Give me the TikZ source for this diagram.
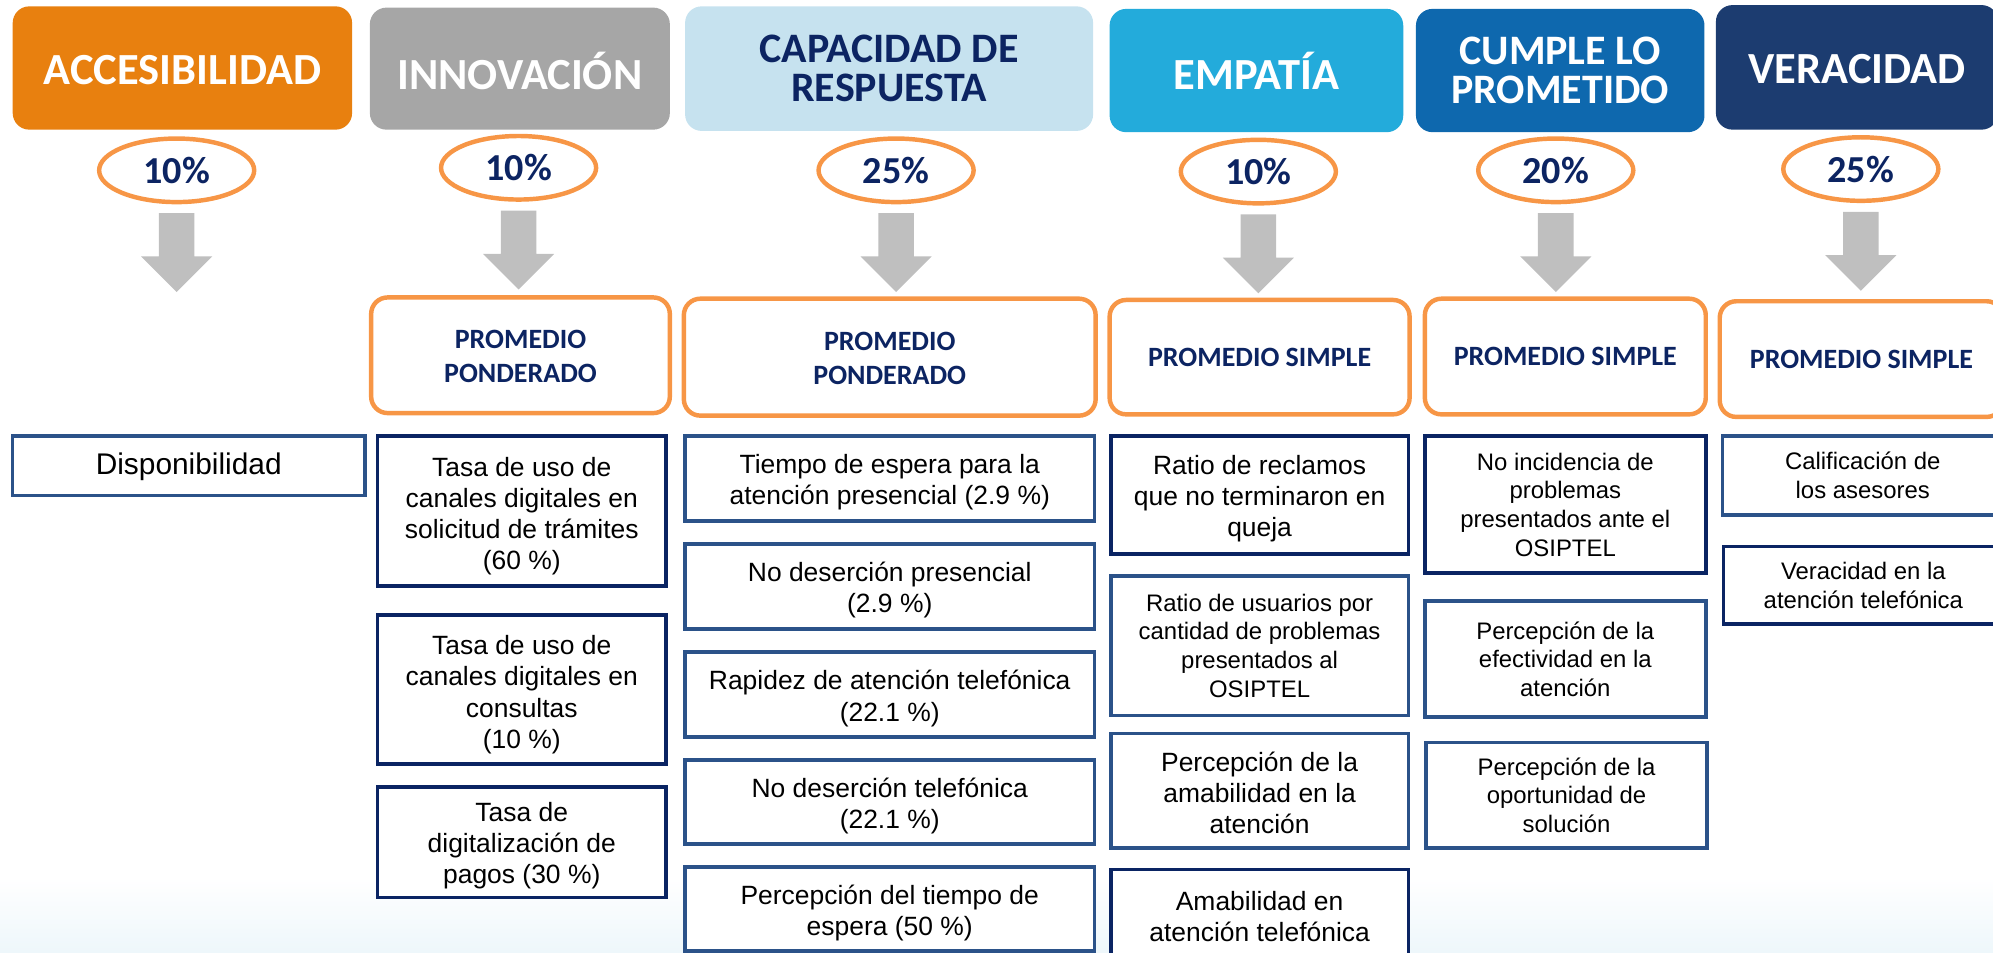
\documentclass[tikz,border=0pt]{standalone}
\usepackage{fontspec}
\setmainfont{Liberation Sans}
\newfontfamily\calib{Carlito}
\usetikzlibrary{shapes.geometric,calc}
\definecolor{accorange}{HTML}{E8800F}
\definecolor{innovgray}{HTML}{A6A6A6}
\definecolor{caplight}{HTML}{C6E2EF}
\definecolor{empblue}{HTML}{23ABDB}
\definecolor{cumpleblue}{HTML}{0E68AE}
\definecolor{verblue}{HTML}{1C3C70}
\definecolor{navy}{HTML}{0C2462}
\definecolor{orangeline}{HTML}{F79646}
\definecolor{arrowgray}{HTML}{BFBFBF}
\definecolor{darkborder}{HTML}{0A2463}
\definecolor{midborder}{HTML}{2B5289}
\definecolor{bgblue}{HTML}{EEF7FB}
% box drawn as a node, its text placed as a second node (shifted by #8)
\newcommand\mkbox[8]{\node[#6, minimum width={#4-#2}, minimum height={#5-#3}] (#1) at ({(#2+#4)/2},{(#3+#5)/2}) {};
  \node[#6, draw=none, fill=none, minimum width=0pt, minimum height=0pt] (#1t) at ([yshift=#8]#1.center) {#7};}
\newcommand\blockarrow[1]{\fill[arrowgray] ($(#1.south)+(-14,7)$) -- ($(#1.south)+(14,7)$) -- ($(#1.south)+(14,41)$) -- ($(#1.south)+(28,41)$) -- ($(#1.south)+(0,69)$) -- ($(#1.south)+(-28,41)$) -- ($(#1.south)+(-14,41)$) -- cycle;}
\tikzset{
  hdr/.style={rounded corners=13pt, inner sep=0pt, align=center,
    font=\calib\bfseries\fontsize{35}{35}\selectfont},
  hdrtwo/.style={rounded corners=13pt, inner sep=0pt, align=center,
    font=\calib\bfseries\fontsize{33}{31}\selectfont},
  pct/.style={ellipse, draw=orangeline, line width=3.5pt, fill=white,
    minimum width=122, minimum height=50, inner sep=0pt, text=navy,
    font=\calib\bfseries\fontsize{30}{30}\selectfont},
  meth/.style={draw=orangeline, line width=3.5pt, rounded corners=13pt, fill=white,
    inner sep=0pt, align=center, text=navy,
    font=\calib\bfseries\fontsize{22}{27}\selectfont},
  ind/.style={draw=midborder, line width=2.8pt, fill=white, inner sep=0pt, align=center,
    font=\fontsize{20.8}{24.5}\selectfont},
  inddark/.style={ind, draw=darkborder},
  small/.style={font=\fontsize{18.8}{22.6}\selectfont},
}
\begin{document}
\begin{tikzpicture}[x=1pt,y=-1pt]
\useasboundingbox (0,0) rectangle (1568,749);
\clip (0,0) rectangle (1568,749);
\fill[top color=white,bottom color=bgblue] (0,690) rectangle (1568,749);
% headers
\mkbox{h1}{10}{5}{277}{102}{hdr, fill=accorange, text=white}{ACCESIBILIDAD}{-1.5pt}
\mkbox{h2}{291}{6}{527}{102}{hdr, fill=innovgray, text=white}{INNOVACIÓN}{-1.5pt}
\mkbox{h3}{539}{5}{860}{103}{hdrtwo, fill=caplight, text=navy}{CAPACIDAD DE\\RESPUESTA}{0pt}
\mkbox{h4}{873}{7}{1104}{104}{hdr, fill=empblue, text=white}{EMPATÍA}{0pt}
\mkbox{h5}{1114}{7}{1341}{104}{hdrtwo, fill=cumpleblue, text=white}{CUMPLE LO\\PROMETIDO}{0pt}
\mkbox{h6}{1350}{4}{1572}{102}{hdr, fill=verblue, text=white}{VERACIDAD}{-1.5pt}
% percentages
\node[pct] (p1) at (139,134) {10\%};
\node[pct] (p2) at (408,132) {10\%};
\node[pct] (p3) at (705,134) {25\%};
\node[pct] (p4) at (990,135) {10\%};
\node[pct] (p5) at (1224,134) {20\%};
\node[pct] (p6) at (1464,133) {25\%};
\blockarrow{p1}\blockarrow{p2}\blockarrow{p3}\blockarrow{p4}\blockarrow{p5}\blockarrow{p6}
% methods
\mkbox{m2}{292}{234}{527}{325}{meth}{PROMEDIO\\PONDERADO}{-1pt}
\mkbox{m3}{538}{235}{862}{327}{meth}{PROMEDIO\\PONDERADO}{-1pt}
\mkbox{m4}{873}{236}{1109}{326}{meth}{PROMEDIO SIMPLE}{0pt}
\mkbox{m5}{1121}{235}{1342}{326}{meth}{PROMEDIO SIMPLE}{0pt}
\mkbox{m6}{1353}{237}{1576}{328}{meth}{PROMEDIO SIMPLE}{0pt}
% column 1
\mkbox{a1}{10}{343}{287}{390}{ind, font=\fontsize{23.5}{28}\selectfont}{Disponibilidad}{-1pt}
% column 2
\mkbox{b1}{297}{343}{524}{461}{inddark}{Tasa de uso de\\canales digitales en\\solicitud de trámites\\(60 \%)}{-4pt}
\mkbox{b2}{297}{484}{524}{601}{inddark}{Tasa de uso de\\canales digitales en\\consultas\\(10 \%)}{-4pt}
\mkbox{b3}{297}{619}{524}{706}{inddark}{Tasa de\\digitalización de\\pagos (30 \%)}{-3pt}
% column 3
\mkbox{c1}{539}{343}{861}{410}{ind}{Tiempo de espera para la\\atención presencial (2.9 \%)}{-3pt}
\mkbox{c2}{539}{428}{861}{495}{ind}{No deserción presencial\\(2.9 \%)}{-3pt}
\mkbox{c3}{539}{513}{861}{580}{ind}{Rapidez de atención telefónica\\(22.1 \%)}{-3pt}
\mkbox{c4}{539}{598}{861}{664}{ind}{No deserción telefónica\\(22.1 \%)}{-3pt}
\mkbox{c5}{539}{682}{861}{748}{ind}{Percepción del tiempo de\\espera (50 \%)}{-3pt}
% column 4
\mkbox{d1}{874}{343}{1108}{436}{inddark}{Ratio de reclamos\\que no terminaron en\\queja}{-3pt}
\mkbox{d2}{874}{453}{1108}{563}{ind, small}{Ratio de usuarios por\\cantidad de problemas\\presentados al\\OSIPTEL}{0pt}
\mkbox{d3}{874}{577}{1108}{667}{ind}{Percepción de la\\amabilidad en la\\atención}{-2pt}
\mkbox{d4}{874}{684}{1108}{756}{inddark}{Amabilidad en\\atención telefónica}{-1pt}
% column 5
\mkbox{e1}{1121}{343}{1342}{451}{inddark, small}{No incidencia de\\problemas\\presentados ante el\\OSIPTEL}{0pt}
\mkbox{e2}{1121}{473}{1342}{564}{ind, small}{Percepción de la\\efectividad en la\\atención}{0pt}
\mkbox{e3}{1122}{584}{1343}{667}{ind, small}{Percepción de la\\oportunidad de\\solución}{0pt}
% column 6
\mkbox{f1}{1355}{343}{1576}{405}{ind, small}{Calificación de\\los asesores}{0pt}
\mkbox{f2}{1356}{430}{1576}{491}{inddark, small}{Veracidad en la\\atención telefónica}{0pt}
\end{tikzpicture}
\end{document}
